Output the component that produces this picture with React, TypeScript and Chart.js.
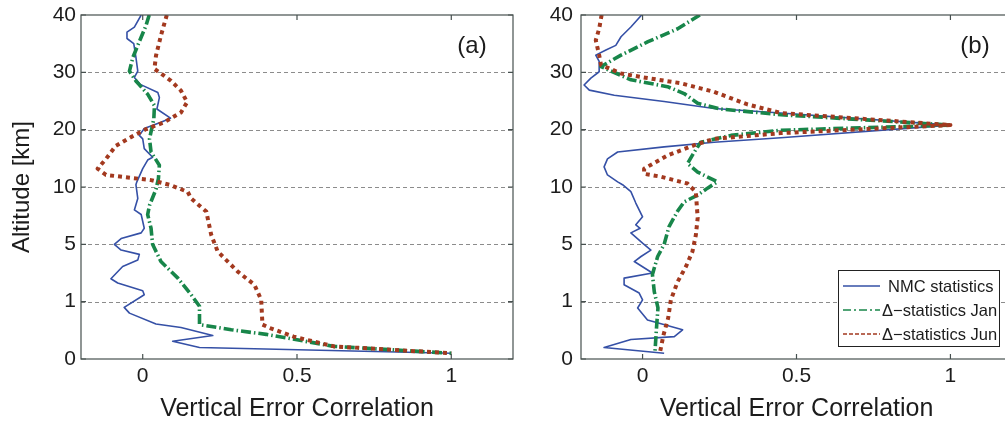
import React, { useEffect, useRef } from "react";
import { Chart, registerables } from "chart.js";
Chart.register(...registerables);

// ---------- axis definitions ----------
const altTickKm = [0, 1, 5, 10, 20, 30, 40];
const altTickLabels = ["0", "1", "5", "10", "20", "30", "40"];
const corrTicks = [0, 0.5, 1];
const corrMin = -0.2;
const corrMax = 1.2;

const seriesNames = ["NMC statistics", "\u0394\u2212statistics Jan", "\u0394\u2212statistics Jun"];
const panelTags = ["(a)", "(b)"];
const xTitle = "Vertical Error Correlation";
const yTitle = "Altitude [km]";

// ---------- panel (a) ----------
const aNmcAlt = [40, 37.9, 37.0, 35.9, 35.0, 32.6, 30.2, 29.1, 27.9, 26.5, 25.6, 23.6, 22.0, 21.3, 20.2, 19.0, 18.4, 16.7, 15.2, 14.7, 13.2, 10.9, 10.4, 9.0, 8.0, 7.6, 6.4, 6.0, 5.5, 5.0, 4.6, 4.3, 3.9, 3.45, 2.6, 2.3, 1.76, 1.48, 0.9, 0.8, 0.61, 0.55, 0.41, 0.31, 0.2, 0.1];
const aNmcCorr = [-0.005, -0.027, -0.051, -0.051, -0.029, -0.022, -0.016, -0.027, -0.008, 0.049, 0.054, 0.046, 0.09, 0.059, 0.005, -0.011, 0.0, 0.005, 0.032, 0.016, 0.0, -0.019, -0.022, -0.016, -0.027, -0.005, 0.005, -0.005, -0.07, -0.092, -0.07, -0.011, -0.016, -0.065, -0.103, -0.081, 0.0, 0.005, -0.06, -0.043, 0.043, 0.124, 0.227, 0.097, 0.184, 1.0];

const aJanAlt = [40, 38.2, 34.7, 32.6, 30.2, 28.5, 26.2, 24.2, 21.9, 18.4, 16.1, 13.8, 11.5, 9.8, 8.4, 7.6, 6.4, 5.0, 3.8, 2.64, 1.48, 0.92, 0.6, 0.51, 0.43, 0.22, 0.1];
const aJanCorr = [0.021, 0.011, -0.016, -0.032, -0.043, -0.022, 0.016, 0.038, 0.036, 0.022, 0.027, 0.054, 0.051, 0.043, 0.022, 0.016, 0.027, 0.032, 0.059, 0.114, 0.157, 0.184, 0.184, 0.287, 0.4, 0.62, 1.0];

const aJunAlt = [40, 36.4, 32.9, 30.6, 30.0, 28.5, 26.8, 24.8, 23.0, 21.3, 20.1, 18.7, 17.2, 14.9, 13.2, 12.1, 11.6, 11.2, 10.3, 9.57, 9.0, 7.86, 5.83, 4.5, 3.1, 2.18, 1.13, 0.6, 0.54, 0.39, 0.22, 0.1];
const aJunCorr = [0.078, 0.059, 0.043, 0.038, 0.054, 0.092, 0.124, 0.144, 0.124, 0.07, 0.011, -0.038, -0.087, -0.119, -0.146, -0.119, -0.038, 0.027, 0.092, 0.146, 0.157, 0.206, 0.222, 0.243, 0.308, 0.362, 0.384, 0.388, 0.413, 0.489, 0.62, 1.0];

// ---------- panel (b) ----------
const bNmcAlt = [40, 37.9, 36.2, 34.7, 33.9, 33.0, 31.9, 30.1, 29.0, 27.8, 26.9, 26.0, 24.9, 23.7, 22.9, 20.8, 18.6, 17.8, 17.0, 16.1, 14.9, 13.5, 12.1, 10.9, 10.4, 9.6, 8.6, 7.4, 6.7, 6.4, 6.0, 5.1, 4.6, 4.15, 3.8, 3.0, 2.64, 2.18, 1.6, 1.13, 0.89, 0.68, 0.51, 0.39, 0.34, 0.2, 0.1];
const bNmcCorr = [-0.003, -0.038, -0.07, -0.087, -0.119, -0.152, -0.141, -0.141, -0.168, -0.19, -0.173, -0.092, 0.07, 0.232, 0.449, 1.0, 0.449, 0.232, 0.07, -0.081, -0.114, -0.125, -0.114, -0.081, -0.065, -0.038, -0.022, 0.0, -0.022, -0.008, -0.038, 0.0, 0.027, -0.005, -0.027, 0.032, -0.06, -0.06, -0.011, 0.0, -0.016, 0.016, 0.13, 0.103, -0.038, -0.125, 0.07];

const bJanAlt = [40, 37.6, 35.3, 33.0, 31.0, 28.7, 27.5, 26.3, 24.6, 23.6, 22.6, 20.8, 19.9, 19.0, 17.8, 16.1, 14.1, 12.6, 10.9, 9.9, 9.3, 8.7, 7.9, 6.55, 5.0, 4.15, 2.9, 1.7, 0.89, 0.6, 0.1];
const bJanCorr = [0.186, 0.114, 0.016, -0.07, -0.135, -0.038, 0.081, 0.135, 0.179, 0.254, 0.449, 1.0, 0.449, 0.287, 0.189, 0.168, 0.146, 0.179, 0.243, 0.211, 0.179, 0.135, 0.114, 0.086, 0.07, 0.049, 0.032, 0.038, 0.05, 0.046, 0.04];

const bJunAlt = [40, 37.6, 35.6, 33.0, 31.3, 29.8, 29.0, 28.1, 26.6, 24.4, 22.9, 20.8, 19.4, 18.4, 17.3, 15.5, 13.2, 12.3, 11.8, 10.6, 9.57, 7.3, 5.8, 4.5, 3.45, 2.4, 1.13, 0.71, 0.42, 0.1];
const bJunCorr = [-0.133, -0.141, -0.152, -0.141, -0.135, -0.07, 0.016, 0.124, 0.232, 0.341, 0.449, 1.0, 0.449, 0.232, 0.168, 0.081, 0.005, 0.005, 0.059, 0.146, 0.173, 0.179, 0.173, 0.162, 0.141, 0.114, 0.092, 0.083, 0.068, 0.056];

// ---------- styles ----------
const FONT = '"Liberation Sans", Arial, Helvetica, sans-serif';
const TEXT = "#1c1c1c";
const AXIS = "#46504f";
const GRID = "#8c8c8c";
const BLUE = "#3550a6";
const GREEN = "#18864a";
const RED = "#a3391f";

const styles = [
  { color: BLUE, width: 1.6, dash: [] as number[], order: 2, legendDash: [] as number[] },
  { color: GREEN, width: 3.6, dash: [10, 3, 1.5, 3], order: 1, legendDash: [8, 3, 2, 3] },
  { color: RED, width: 4, dash: [4, 4], order: 0, legendDash: [4, 2] },
];

// piecewise-linear altitude axis: each tick interval gets equal height
function altToPos(km: number): number {
  for (let i = 1; i < altTickKm.length; i++) {
    if (km <= altTickKm[i]) {
      const a = altTickKm[i - 1];
      const b = altTickKm[i];
      return i - 1 + (km - a) / (b - a);
    }
  }
  return altTickKm.length - 1;
}

type PanelProps = {
  left: number;
  width: number;
  yAxisWidth: number;
  yTickPad: number;
  padRight: number;
  showYTitle: boolean;
  tag: string;
  tagOffset: number;
  showLegend: boolean;
  corr: number[][];
  alt: number[][];
};

function Panel(p: PanelProps) {
  const ref = useRef<HTMLCanvasElement | null>(null);

  useEffect(() => {
    const canvas = ref.current;
    if (!canvas) return;

    const framePlugin = {
      id: "frame",
      beforeDatasetsDraw(chart: any) {
        const { ctx, chartArea } = chart;
        const ys = chart.scales.y;
        ctx.save();
        ctx.strokeStyle = GRID;
        ctx.lineWidth = 1;
        ctx.setLineDash([4, 3]);
        for (let i = 1; i < altTickKm.length - 1; i++) {
          const y = Math.round(ys.getPixelForValue(i)) + 0.5;
          ctx.beginPath();
          ctx.moveTo(chartArea.left, y);
          ctx.lineTo(chartArea.right, y);
          ctx.stroke();
        }
        ctx.restore();
      },
      afterDatasetsDraw(chart: any) {
        const { ctx, chartArea } = chart;
        const xs = chart.scales.x;
        const ys = chart.scales.y;
        const { left, right, top, bottom } = chartArea;
        ctx.save();
        ctx.setLineDash([]);
        ctx.strokeStyle = AXIS;
        ctx.lineWidth = 1.2;
        ctx.strokeRect(left, top, right - left, bottom - top);
        // inward ticks
        const tl = 5;
        ctx.beginPath();
        corrTicks.forEach((v) => {
          const x = xs.getPixelForValue(v);
          ctx.moveTo(x, bottom);
          ctx.lineTo(x, bottom - tl);
          ctx.moveTo(x, top);
          ctx.lineTo(x, top + tl);
        });
        altTickKm.forEach((_, i) => {
          const y = ys.getPixelForValue(i);
          ctx.moveTo(left, y);
          ctx.lineTo(left + tl, y);
          ctx.moveTo(right, y);
          ctx.lineTo(right - tl, y);
        });
        ctx.stroke();

        // panel tag
        ctx.fillStyle = TEXT;
        ctx.font = `24px ${FONT}`;
        ctx.textAlign = "center";
        ctx.textBaseline = "middle";
        ctx.fillText(p.tag, right - p.tagOffset, top + 31);

        if (p.showLegend) {
          const bx = 298;
          const by = 270;
          const bw = 161;
          const bh = 76;
          ctx.fillStyle = "#ffffff";
          ctx.fillRect(bx, by, bw, bh);
          ctx.strokeStyle = "#222";
          ctx.lineWidth = 1;
          ctx.strokeRect(bx + 0.5, by + 0.5, bw, bh);
          const rows = [286, 310, 334];
          const textX = [348, 342, 342];
          seriesNames.forEach((name, i) => {
            const st = styles[i];
            ctx.strokeStyle = st.color;
            ctx.lineWidth = 1.5;
            ctx.setLineDash(st.legendDash);
            ctx.beginPath();
            ctx.moveTo(bx + 5, rows[i]);
            ctx.lineTo(bx + 42, rows[i]);
            ctx.stroke();
            ctx.setLineDash([]);
            ctx.fillStyle = TEXT;
            ctx.font = `16.5px ${FONT}`;
            ctx.textAlign = "left";
            ctx.textBaseline = "middle";
            ctx.fillText(name, textX[i], rows[i] + 1);
          });
        }
        ctx.restore();
      },
    };

    const datasets = p.corr.map((cArr, si) => ({
      label: seriesNames[si],
      data: cArr.map((v, k) => ({ x: v, y: altToPos(p.alt[si][k]) })),
      showLine: true,
      borderColor: styles[si].color,
      backgroundColor: styles[si].color,
      borderWidth: styles[si].width,
      borderDash: styles[si].dash,
      borderCapStyle: "butt",
      borderJoinStyle: "round",
      pointRadius: 0,
      pointHoverRadius: 0,
      tension: 0,
      fill: false,
      order: styles[si].order,
    }));

    const chart = new Chart(canvas, {
      type: "scatter",
      data: { datasets } as any,
      options: {
        responsive: false,
        animation: false,
        devicePixelRatio: 1,
        layout: { padding: { top: 15, right: p.padRight, left: 0, bottom: 0 } },
        plugins: {
          legend: { display: false },
          tooltip: { enabled: false },
        },
        events: [],
        scales: {
          x: {
            type: "linear",
            min: corrMin,
            max: corrMax,
            afterBuildTicks: (s: any) => {
              s.ticks = corrTicks.map((v) => ({ value: v }));
            },
            afterFit: (s: any) => {
              s.height = 69;
              s.paddingLeft = 0;
              s.paddingRight = 0;
            },
            ticks: {
              autoSkip: false,
              maxRotation: 0,
              padding: 5,
              color: TEXT,
              font: { family: FONT, size: 21 },
              callback: (v: any) => String(v),
            },
            grid: { display: false, drawTicks: false },
            border: { display: false },
            title: {
              display: true,
              text: xTitle,
              color: TEXT,
              font: { family: FONT, size: 25 },
              padding: { top: 0, bottom: 4 },
            },
          },
          y: {
            type: "linear",
            min: 0,
            max: altTickKm.length - 1,
            afterBuildTicks: (s: any) => {
              s.ticks = altTickKm.map((_, i) => ({ value: i }));
            },
            afterFit: (s: any) => {
              s.width = p.yAxisWidth;
              s.paddingTop = 0;
              s.paddingBottom = 0;
            },
            ticks: {
              autoSkip: false,
              padding: p.yTickPad,
              color: TEXT,
              font: { family: FONT, size: 21 },
              callback: (_v: any, i: number) => altTickLabels[i],
            },
            grid: { display: false, drawTicks: false },
            border: { display: false },
            title: {
              display: p.showYTitle,
              text: yTitle,
              color: TEXT,
              font: { family: FONT, size: 24 },
              padding: { top: 8, bottom: 0 },
            },
          },
        },
      } as any,
      plugins: [framePlugin],
    });

    return () => chart.destroy();
  }, []);

  return (
    <canvas
      ref={ref}
      width={p.width}
      height={428}
      style={{ position: "absolute", left: p.left, top: 0, width: p.width, height: 428, display: "block" }}
    />
  );
}

export default function App() {
  return (
    <div
      style={{
        position: "absolute",
        left: 0,
        top: 0,
        width: 1005,
        height: 428,
        overflow: "hidden",
        background: "#ffffff",
      }}
    >
      <Panel
        left={0}
        width={545}
        yAxisWidth={81}
        yTickPad={5}
        padRight={32}
        showYTitle={true}
        tag={panelTags[0]}
        tagOffset={41}
        showLegend={false}
        corr={[aNmcCorr, aJanCorr, aJunCorr]}
        alt={[aNmcAlt, aJanAlt, aJunAlt]}
      />
      <Panel
        left={540}
        width={480}
        yAxisWidth={41}
        yTickPad={8}
        padRight={8}
        showYTitle={false}
        tag={panelTags[1]}
        tagOffset={37}
        showLegend={true}
        corr={[bNmcCorr, bJanCorr, bJunCorr]}
        alt={[bNmcAlt, bJanAlt, bJunAlt]}
      />
    </div>
  );
}
